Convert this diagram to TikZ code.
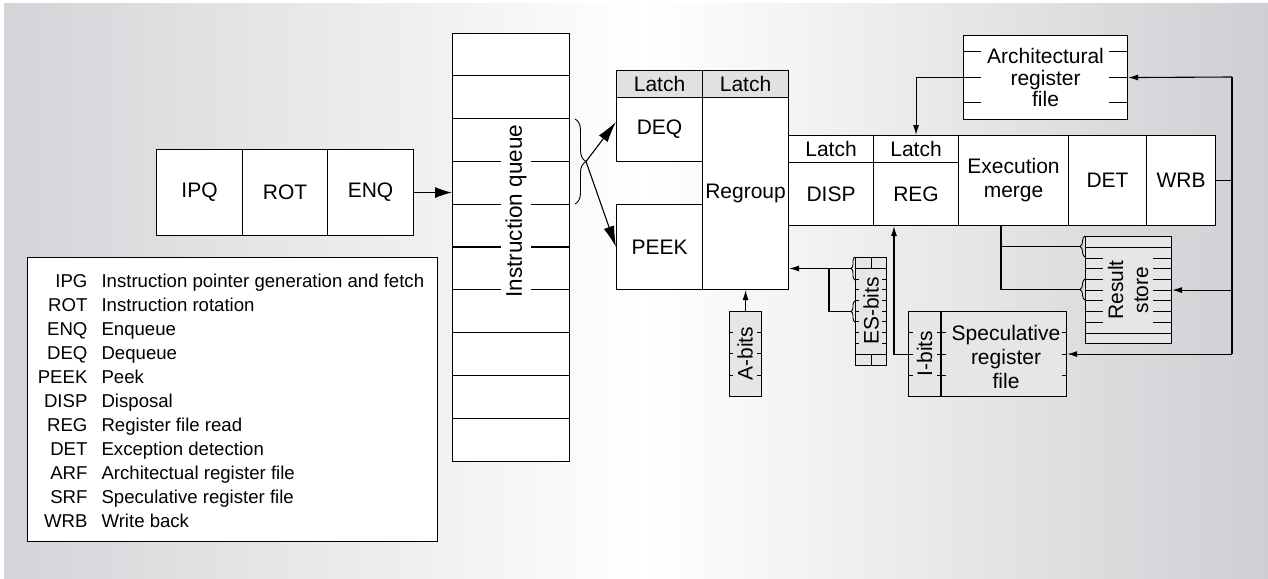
\documentclass[tikz,border=0pt]{standalone}
\usepackage{fontspec}
\setmainfont{Liberation Sans}
\usetikzlibrary{arrows.meta,decorations.pathreplacing,calc}
\definecolor{bgL}{RGB}{211,212,215}
\definecolor{bgR}{RGB}{206,207,210}
\definecolor{latchgray}{RGB}{224,225,227}
\definecolor{boxgray}{RGB}{229,230,232}
\begin{document}
\begin{tikzpicture}[x=1pt,y=-1pt, line width=1.1pt, font=\fontsize{21}{24}\selectfont,
  cell/.style 2 args={draw, fill=white, anchor=north west, inner sep=0pt, minimum width=#1pt, minimum height=#2pt, align=center},
  sarr/.style={-{Latex[length=10pt,width=6pt]}},
  barr/.style={-{Latex[length=21pt,width=11pt]}},
  earr/.style={-{Latex[length=17pt,width=11pt]}},
  brc/.style={decorate, line width=0.9pt, decoration={brace, amplitude=#1pt}},
  tk/.style={line width=1pt},
  legfont/.style={font=\fontsize{18.6}{24}\selectfont}]
% background
\useasboundingbox (0,0) rectangle (1268,578);
\fill[white] (0,0) rectangle (1268,578);
\shade[left color=bgL, right color=white] (4,4) rectangle (645,578);
\shade[left color=white, right color=bgR] (645,4) rectangle (1268,578);

% front end
\node[cell={86}{86}] (ipq) at (156,149) {IPQ};
\node[cell={85}{86}] (rot) at (242,149) {ROT};
\node[cell={86}{86}] (enq) at (327,149) {ENQ};

% legend
\node[cell={410}{284}] (legend) at (27,257) {};
\foreach \abbr/\desc [count=\i from 0] in {IPG/Instruction pointer generation and fetch, ROT/Instruction rotation, ENQ/Enqueue, DEQ/Dequeue, PEEK/Peek, DISP/Disposal, REG/Register file read, DET/Exception detection, ARF/Architectual register file, SRF/Speculative register file, WRB/Write back} {
  \node[legfont, anchor=base east, inner sep=0pt] (la\i) at (88,287+24*\i) {\abbr};
  \node[legfont, anchor=base west, inner sep=0pt] (ld\i) at (101,287+24*\i) {\desc};
}

% instruction queue
\node[cell={117}{428}] (queue) at (452,33) {};
\foreach \k in {1,...,9} \draw ($(queue.north west)+(0,42.8*\k)$) -- ++(117,0);
\node[rotate=90, fill=white, inner xsep=0pt, inner ysep=5pt, font=\fontsize{22.5}{24}\selectfont] (iqt) at (516,211) {Instruction queue};
\draw[earr] (enq.east) -- (enq.east -| queue.west);
\draw[brc=11] (575,119) -- (575,204);
\coordinate (bt) at (586,161.5);

% dequeue / peek / regroup
\node[cell={86}{27}, fill=latchgray] (lt1) at (616,70) {Latch};
\node[cell={86}{27}, fill=latchgray] (lt2) at (702,70) {Latch};
\node[cell={86}{64}] (deq) at (616,97) {DEQ};
\node[cell={86}{85}] (peek) at (616,204) {PEEK};
\node[cell={86}{192}] (regroup) at (702,97) {\raisebox{4pt}{Regroup}};
\draw[barr] (bt) -- (deq.170);
\draw[barr] (bt) -- (peek.west);

% pipeline
\node[cell={85}{27}] (lt3) at (788,135) {Latch};
\node[cell={85}{27}] (lt4) at (873,135) {Latch};
\node[cell={85}{63}] (disp) at (788,162) {\raisebox{-3pt}{DISP}};
\node[cell={85}{63}] (reg) at (873,162) {\raisebox{-3pt}{REG}};
\node[cell={110}{90}] (exec) at (958,135) {\raisebox{-3pt}{Execution}\\\raisebox{-3pt}{merge}};
\node[cell={78}{90}] (det) at (1068,135) {\raisebox{-2pt}{DET}};
\node[cell={69}{90}] (wrb) at (1146,135) {\raisebox{-2pt}{WRB}};

% architectural register file
\node[cell={164}{84}, font=\fontsize{21}{21.5}\selectfont] (arf) at (963,35) {Architectural\\register\\file};
\foreach \yy in {52,77,102} {\draw[tk] (963,\yy) -- ++(18,0); \draw[tk] (1127,\yy) -- ++(-18,0);}

% result store
\node[cell={86}{107}, fill=boxgray] (rs) at (1085,236) {};
\draw[tk] (1085,247) -- (1171,247);
\draw[tk] (1085,333) -- (1171,333);
\foreach \k in {0,...,6} {\draw[tk] (1085,258+10.7*\k) -- ++(18,0); \draw[tk] (1171,258+10.7*\k) -- ++(-18,0);}
\node[rotate=90, align=center, font=\fontsize{21}{25}\selectfont] (rst) at (1128,290) {Result\\store};
\draw[brc=5] (1085,257) -- (1085,236);
\draw[brc=5] (1085,300) -- (1085,279);
\coordinate (rsA) at (1080,246.5);
\coordinate (rsB) at (1080,289.5);
\coordinate (eb) at ($(exec.south west)+(43,0)$);
\draw (eb) |- (rsB);
\draw (eb |- rsA) -- (rsA);

% ES-bits
\node[cell={31}{108}, fill=boxgray] (es) at (855,257) {};
\draw[tk] (855,268) -- (886,268);
\draw[tk] (855,354) -- (886,354);
\draw[tk] (871,257) -- (871,268);
\draw[tk] (871,354) -- (871,365);
\foreach \k in {0,...,6} {\draw[tk] (855,279+10.7*\k) -- ++(4,0); \draw[tk] (886,279+10.7*\k) -- ++(-4,0);}
\node[rotate=90, inner sep=0pt] (est) at (871,311) {ES-bits};
\draw[brc=4] (855,280) -- (855,257);
\draw[brc=4] (855,322) -- (855,301);
\coordinate (esA) at (851,268.5);
\coordinate (esB) at (851,311.5);
\coordinate (esV) at (829,268.5);
\draw[sarr] (esA) -- (esA -| regroup.east);
\draw (esV) |- (esB);

% A-bits
\node[cell={32}{85}, fill=boxgray] (ab) at (729,311) {};
\foreach \yy in {332,353,375} {\draw[tk] (729,\yy) -- ++(4,0); \draw[tk] (761,\yy) -- ++(-4,0);}
\node[rotate=90, inner sep=0pt] (abt) at (745,353.5) {A-bits};
\draw[sarr] (ab.north) -- (ab.north |- regroup.south);

% speculative register file
\node[cell={158}{85}, fill=boxgray] (srf) at (908,311) {};
\draw (941,311) -- (941,396);
\foreach \yy in {332,354,375} {\draw[tk] (908,\yy) -- ++(5,0); \draw[tk] (937,\yy) -- (946,\yy); \draw[tk] (1066,\yy) -- ++(-4,0);}
\node[rotate=90, inner sep=0pt] (ibt) at (924.5,353.5) {I-bits};
\node[align=center] (spt) at (1006,357) {Speculative\\register\\file};
\coordinate (regin) at ($(reg.south west)+(21,0)$);
\draw[sarr] (srf.west) -| (regin);

% architectural register file to REG
\draw[sarr] (arf.west) -| (lt4.north);

% write-back bus
\coordinate (bus) at (1232,77);
\draw (wrb.east) -- (wrb.east -| bus);
\draw[sarr] (bus) -- (arf.east);
\draw (bus) -- (bus |- srf.east);
\draw[sarr] (rs.east -| bus) -- (rs.east);
\draw[sarr] (srf.east -| bus) -- (srf.east);
\end{tikzpicture}
\end{document}
